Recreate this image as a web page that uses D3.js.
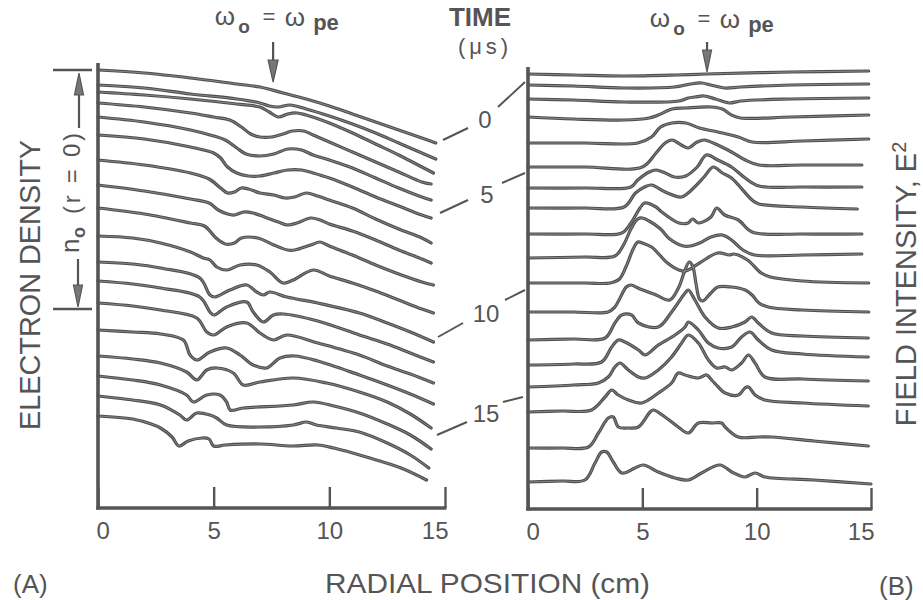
<!DOCTYPE html>
<html><head><meta charset="utf-8">
<script src="https://cdn.jsdelivr.net/npm/d3@7"></script>
<style>
body{margin:0;background:#fff}
svg{display:block}
text{font-family:"Liberation Sans",Arial,Helvetica,sans-serif;fill:#555}
</style>
</head><body>
<svg id="c" width="923" height="600"></svg>
<script>
// ---------- DATA ----------
const radialTicks = [0, 5, 10, 15];
const timeLabels = ["0", "5", "10", "15"];

// Panel A: electron density profiles, [radius cm, stacked density]
const densityTraces = [
 [[0,43.8],[2,43.5],[4,43.0],[6,42.4],[7,42.1],[8,41.5],[9,40.9],[10,40.2],[11,39.4],[12,38.6],[13,37.8],[14,37.0],[14.6,36.5]],
 [[0,42.3],[2,42.0],[4,41.4],[6,40.9],[7,40.5],[7.4,40.2],[7.8,40.1],[8.3,40.3],[9,39.9],[10,39.2],[11,38.4],[12,37.5],[13,36.5],[14,35.5],[14.6,34.9]],
 [[0,41.6],[2,41.3],[4,40.9],[6,40.4],[7,40.1],[7.4,39.6],[7.8,39.1],[8.2,39.4],[8.6,39.5],[9,39.3],[10,38.5],[11,37.5],[12,36.4],[13,35.3],[14,34.1],[14.5,33.5]],
 [[0,40.5],[2,40.1],[4,39.5],[5,39.1],[5.7,38.8],[6.2,38.1],[6.6,37.4],[7,37.1],[7.5,37.1],[8,37.4],[8.4,37.7],[8.9,37.7],[9.3,37.3],[10,36.6],[11,35.6],[12,34.6],[13,33.6],[14,32.6],[14.4,32.4]],
 [[0,39.1],[2,38.6],[4,37.8],[5,37.2],[5.5,36.8],[6,36.0],[6.4,35.4],[7,35.2],[7.6,35.4],[8.2,35.9],[8.8,35.8],[9.3,35.3],[10,34.8],[11,34.0],[12,33.0],[13,32.0],[14,31.1],[14.4,30.8]],
 [[0,37.3],[2,36.9],[4,36.1],[5,35.5],[5.3,35.0],[5.6,34.1],[6,33.5],[6.5,33.2],[7,33.2],[7.6,33.5],[8.2,33.8],[8.8,33.8],[9.3,33.5],[10,33.0],[11,32.1],[12,31.1],[13,30.2],[14,29.3],[14.4,29.0]],
 [[0,34.8],[2,34.3],[4,33.5],[4.8,32.9],[5.3,32.0],[5.6,31.5],[5.9,31.6],[6.2,32.0],[6.5,31.9],[7,31.5],[7.6,31.3],[8.1,31.0],[8.5,31.1],[9,31.5],[9.5,31.2],[10,30.8],[11,30.0],[12,28.9],[13,27.9],[14,27.0],[14.4,26.5]],
 [[0,32.3],[2,31.7],[4,30.9],[4.8,30.5],[5.2,29.8],[5.6,29.4],[5.9,29.3],[6.3,29.6],[6.7,29.5],[7.2,29.1],[7.8,28.6],[8.2,28.3],[8.6,28.5],[9.2,29.0],[9.6,28.8],[10,28.4],[11,27.7],[12,26.8],[13,25.8],[14,24.9],[14.4,24.5]],
 [[0,30.0],[2,29.4],[4,28.5],[4.6,28.2],[5.1,27.0],[5.5,26.4],[5.9,26.5],[6.2,27.0],[6.9,27.0],[7.6,26.3],[8.2,25.8],[8.5,25.8],[9.2,26.3],[9.6,26.6],[10,26.2],[11,25.3],[12,24.3],[13,23.4],[14,22.6],[14.5,22.3]],
 [[0,27.2],[1.5,27.0],[2.7,26.5],[4.0,25.6],[4.55,25.0],[4.84,24.8],[5.13,24.1],[5.56,23.8],[6.14,24.3],[6.86,24.3],[7.43,23.6],[8.0,22.5],[8.44,22.8],[9.3,23.8],[10,23.2],[11,22.5],[12,21.7],[13,20.8],[14,19.9],[14.5,19.5]],
 [[0,24.6],[1.5,24.4],[2.7,24.0],[4.4,23.0],[4.84,21.3],[5.06,21.1],[5.7,21.8],[6.43,22.3],[6.86,21.6],[7.15,21.3],[7.43,21.6],[8.16,21.1],[9.5,20.5],[11.3,19.5],[12.5,18.5],[13.5,17.6],[14.5,16.6]],
 [[0,22.7],[1.5,22.4],[2.7,22.0],[4.4,21.1],[4.84,19.6],[5.0,19.3],[5.56,20.1],[6.43,20.6],[6.71,19.6],[7.15,18.6],[7.58,19.3],[8.0,19.4],[9.5,18.7],[11.3,17.3],[12.5,16.4],[13.5,15.5],[14.5,14.6]],
 [[0,20.5],[1.5,20.2],[2.7,19.8],[4.27,19.0],[4.7,17.6],[5.0,17.3],[5.56,18.1],[6.43,18.5],[7.0,17.5],[7.58,16.8],[8.16,17.3],[9.5,16.5],[11.3,15.3],[12.5,14.2],[13.5,13.4],[14.5,12.5]],
 [[0,17.8],[1.5,17.6],[2.7,17.4],[3.69,16.8],[3.98,15.3],[4.27,14.8],[4.84,15.6],[5.56,16.0],[6.14,15.3],[6.71,14.3],[7.29,14.0],[7.87,15.0],[8.5,15.2],[9.5,14.7],[11.3,13.3],[12.5,12.3],[13.5,11.4],[14.5,10.4]],
 [[0,15.2],[1.5,14.9],[2.7,14.5],[3.83,13.6],[4.27,12.8],[4.7,13.8],[5.13,14.0],[5.85,13.5],[6.28,12.3],[7.0,12.6],[8.44,13.0],[9.88,12.5],[11.3,11.6],[12.5,10.6],[13.5,9.4],[14.4,8.0]],
 [[0,13.2],[1.5,12.8],[2.7,12.3],[3.83,11.3],[4.12,10.6],[4.7,11.3],[5.27,11.3],[5.56,10.6],[5.71,9.8],[6.28,10.0],[8.44,10.3],[9.31,10.6],[10.2,10.2],[11.3,9.5],[12.5,8.4],[13.5,7.3],[14.4,5.9]],
 [[0,11.2],[1.5,10.8],[2.7,10.3],[3.54,9.3],[3.83,8.8],[4.27,9.5],[4.84,9.3],[5.13,9.0],[5.56,8.3],[7.0,8.1],[8.44,8.3],[9.02,8.6],[9.45,8.3],[10.3,8.0],[11.3,7.6],[12.5,6.5],[13.5,5.3],[14.3,4.0]],
 [[0,9.2],[1.5,8.9],[2.3,8.4],[2.7,8.0],[3.2,7.1],[3.5,6.2],[3.9,6.7],[4.5,7.0],[4.8,6.9],[5.0,6.2],[5.5,6.3],[7.0,6.4],[8.4,6.2],[9.5,6.3],[10.2,6.0],[11.6,5.1],[13.1,4.0],[14.2,2.8]]
];

// Panel B: field intensity E^2 profiles, [radius cm, stacked intensity]
const fieldTraces = [
 [[0,43.5],[2,43.4],[4.2,43.3],[6.5,43.4],[7.8,43.5],[11.5,43.7],[14.9,43.8]],
 [[0,42.4],[2,42.3],[4.2,42.1],[6.4,42.2],[7.1,42.5],[7.6,42.6],[8.0,42.4],[8.6,42.1],[9.3,42.2],[11.5,42.4],[14.9,42.5]],
 [[0,41.0],[2,40.9],[4.2,40.7],[6.6,40.8],[7.0,41.1],[7.3,41.2],[7.7,41.3],[8.2,41.0],[8.8,40.6],[9.3,40.8],[11.5,41.0],[14.9,41.1]],
 [[0,39.2],[2,39.0],[4.2,38.9],[5.3,39.1],[5.7,39.4],[6.3,40.0],[6.9,40.1],[8.0,40.2],[8.5,40.0],[8.9,39.4],[9.3,39.1],[11.5,39.2],[14.9,39.4]],
 [[0,36.6],[2.5,36.6],[4.8,36.6],[5.4,37.2],[5.8,38.2],[6.3,38.6],[6.9,38.6],[7.5,38.1],[8.3,37.7],[9.2,37.2],[9.8,36.7],[12,36.8],[14.9,37.0]],
 [[0,34.2],[2.5,34.2],[5.0,34.2],[5.6,35.6],[6.0,36.6],[6.3,36.9],[6.7,36.4],[7.0,36.1],[7.4,36.7],[7.7,36.9],[8.3,36.4],[8.9,35.7],[9.5,34.9],[10.1,34.4],[12,34.4],[14.6,34.4]],
 [[0,32.1],[2.5,32.1],[4.5,32.2],[4.8,32.9],[5.3,33.7],[5.6,33.9],[6.0,33.6],[6.4,33.2],[6.9,33.3],[7.4,34.2],[7.8,35.4],[8.3,34.9],[8.9,34.2],[9.5,33.1],[10.1,32.3],[12,32.2],[14.6,32.2]],
 [[0,30.1],[2.5,30.1],[4.2,30.2],[4.7,31.6],[5.1,32.2],[5.4,32.4],[6.0,31.7],[6.7,31.2],[7.0,31.6],[7.7,33.2],[8.1,34.2],[8.5,33.6],[8.9,33.1],[9.8,30.9],[10.1,30.5],[12,30.2],[14.4,30.0]],
 [[0,27.5],[2.5,27.5],[4.1,27.6],[4.5,28.6],[4.9,30.1],[5.1,30.6],[5.6,30.2],[5.85,29.7],[6.6,28.6],[7.0,28.6],[7.2,29.0],[7.45,28.6],[8.0,29.2],[8.25,30.1],[8.6,29.4],[9.2,28.9],[9.8,27.7],[12,27.5],[14.6,27.5]],
 [[0,25.1],[2.5,25.2],[3.8,25.3],[4.2,26.5],[4.5,28.0],[4.8,29.0],[5.0,29.1],[5.3,28.8],[5.8,28.0],[6.2,27.0],[6.8,26.3],[7.1,26.3],[7.5,26.6],[8.0,27.2],[8.5,27.4],[8.9,26.9],[9.4,25.9],[9.9,25.4],[12,25.4],[14.6,25.5]],
 [[0,22.6],[2.5,22.6],[3.6,22.6],[4.0,23.0],[4.3,24.3],[4.6,26.0],[4.8,26.7],[5.0,26.6],[5.4,26.2],[6.1,24.6],[6.6,23.9],[6.9,23.8],[7.5,24.6],[8.3,25.6],[8.8,25.4],[9.0,25.5],[9.6,24.9],[10.2,23.6],[10.6,23.2],[12,22.8],[14.9,22.6]],
 [[0,19.7],[2,19.7],[3.5,19.7],[3.8,20.2],[4.3,22.2],[4.5,22.4],[4.9,22.0],[5.6,21.4],[6.2,20.9],[6.6,22.2],[6.85,23.8],[7.05,24.7],[7.2,24.3],[7.35,22.5],[7.5,21.0],[7.65,20.8],[8.0,21.6],[8.3,22.2],[8.9,22.2],[9.5,21.9],[9.8,21.4],[10.1,20.6],[10.5,20.2],[12,19.9],[14.9,19.7]],
 [[0,16.9],[2,17.0],[3.37,17.1],[3.8,18.6],[4.1,19.4],[4.53,19.4],[4.83,18.6],[5.7,18.2],[6.28,19.7],[6.87,21.6],[7.01,21.9],[7.3,20.9],[7.74,19.2],[8.32,18.1],[8.91,18.2],[9.49,18.7],[9.78,19.2],[10.07,18.6],[10.66,17.6],[12,17.3],[14.88,17.1]],
 [[0,14.4],[2,14.5],[3.22,14.7],[3.66,16.2],[3.95,16.9],[4.24,16.7],[4.83,15.9],[5.12,15.4],[5.7,16.4],[6.43,17.4],[6.87,18.2],[7.01,18.7],[7.45,17.9],[7.89,16.6],[8.32,16.1],[8.91,16.2],[9.34,17.2],[9.71,17.7],[10.07,16.9],[10.66,15.9],[12,15.5],[14.88,15.2]],
 [[0,12.2],[2,12.4],[3.08,12.6],[3.51,13.2],[3.8,14.2],[4.02,14.6],[4.39,13.9],[4.83,13.2],[5.12,13.1],[5.7,13.9],[6.28,15.2],[6.72,16.6],[7.01,17.4],[7.45,16.6],[7.89,14.9],[8.25,14.1],[8.62,14.2],[8.91,13.9],[9.34,14.6],[9.64,15.4],[9.93,14.6],[10.36,13.2],[12,13.0],[14.88,12.8]],
 [[0,9.7],[1.5,9.8],[2.78,9.9],[3.37,11.2],[3.66,11.9],[3.95,11.4],[4.39,10.9],[4.97,10.6],[5.7,11.6],[6.28,12.6],[6.57,13.6],[6.87,13.4],[7.45,13.1],[7.81,13.4],[8.03,12.9],[8.32,12.2],[8.62,11.6],[9.2,11.4],[9.49,12.1],[9.64,12.2],[9.93,11.4],[10.36,10.9],[12,10.6],[14.88,10.3]],
 [[0,6.1],[1.5,6.1],[2.64,6.2],[3.08,7.6],[3.51,9.1],[3.73,9.2],[3.95,8.2],[4.39,8.1],[4.83,8.2],[5.34,9.7],[5.48,9.9],[5.99,9.2],[6.57,8.2],[7.01,7.6],[7.45,8.6],[8.03,8.6],[8.47,8.6],[8.62,8.2],[9.2,7.2],[10.07,7.2],[10.66,7.2],[12.5,6.8],[14.88,6.3]],
 [[0,2.7],[1.5,2.8],[2.49,2.9],[2.93,4.6],[3.22,5.7],[3.44,5.7],[3.73,4.7],[4.1,3.6],[4.68,4.1],[5.04,4.4],[5.7,3.7],[6.43,3.1],[7.01,2.9],[7.59,3.6],[8.4,4.4],[8.91,3.7],[9.49,3.2],[9.93,3.6],[10.36,3.2],[12.5,2.9],[15.0,2.5]]
];

// ---------- DRAWING ----------
const svg = d3.select("#c");
svg.append("rect").attr("width", 923).attr("height", 600).attr("fill", "#fff");
const ink = "#555";

const xA = d3.scaleLinear().domain([0, 15]).range([98, 445]);
const yA = d3.scaleLinear().domain([0, 44.5]).range([508, 63]);
const xB = d3.scaleLinear().domain([0, 15]).range([528, 871]);
const yB = d3.scaleLinear().domain([0, 44.2]).range([509, 67]);

function drawPanel(x, y, traces) {
  const g = svg.append("g");
  const line = d3.line().x(d => x(d[0])).y(d => y(d[1])).curve(d3.curveCatmullRom.alpha(0.5));
  g.selectAll("path.outer").data(traces).join("path").attr("class", "outer")
    .attr("d", line).attr("fill", "none").attr("stroke", "#4e4e4e")
    .attr("stroke-width", 3.2).attr("stroke-linejoin", "round").attr("stroke-linecap", "round");
  g.selectAll("path.inner").data(traces).join("path").attr("class", "inner")
    .attr("d", line).attr("fill", "none").attr("stroke", "#8e8e8e")
    .attr("stroke-width", 0.9).attr("stroke-linejoin", "round").attr("stroke-linecap", "round");
  // vertical axis
  g.append("line").attr("x1", x(0)).attr("x2", x(0))
    .attr("y1", y(0) + 1.5).attr("y2", y.range()[1])
    .attr("stroke", ink).attr("stroke-width", 3.6);
  // horizontal axis
  const axis = d3.axisBottom(x).tickValues(radialTicks).tickSize(-21).tickSizeOuter(0).tickPadding(14);
  const ag = g.append("g").attr("transform", `translate(0,${y(0)})`).call(axis)
    .attr("font-family", null).attr("font-size", null);
  ag.select(".domain").attr("stroke", ink).attr("stroke-width", 3.6)
    .attr("d", `M${x(0)-1.8},0H${x(15)+1.5}`);
  ag.selectAll(".tick line").attr("stroke", ink).attr("stroke-width", 2.4);
  ag.selectAll(".tick text").attr("font-size", 24).attr("fill", ink)
    .attr("text-anchor", (d, i) => i === 0 ? "start" : (i === radialTicks.length - 1 ? "end" : "middle"))
    .attr("dx", (d, i) => i === 0 ? -2 : (i === radialTicks.length - 1 ? 3 : 0));
}
drawPanel(xA, yA, densityTraces);
drawPanel(xB, yB, fieldTraces);

// ---------- ANNOTATIONS ----------
function arrowDown(g, x, yTop, yTip, headLen, halfW) {
  g.append("line").attr("x1", x).attr("x2", x).attr("y1", yTop).attr("y2", yTip - headLen + 2)
    .attr("stroke", ink).attr("stroke-width", 2.2);
  g.append("path").attr("d", `M${x-halfW},${yTip-headLen}L${x+halfW},${yTip-headLen}L${x},${yTip}Z`)
    .attr("fill", "#777").attr("stroke", ink).attr("stroke-width", 1.2);
}
function arrowUp(g, x, yBottom, yTip, headLen, halfW) {
  g.append("line").attr("x1", x).attr("x2", x).attr("y1", yBottom).attr("y2", yTip + headLen - 2)
    .attr("stroke", ink).attr("stroke-width", 2.2);
  g.append("path").attr("d", `M${x-halfW},${yTip+headLen}L${x+halfW},${yTip+headLen}L${x},${yTip}Z`)
    .attr("fill", "#777").attr("stroke", ink).attr("stroke-width", 1.2);
}
const ann = svg.append("g");

// omega_o = omega_pe labels with arrows
function omegaLabel(cx, base) {
  ann.append("text").attr("x", cx).attr("y", base).attr("font-size", 26).attr("text-anchor", "middle").text("ω");
  ann.append("text").attr("x", cx + 19).attr("y", base + 8).attr("font-size", 19).attr("font-weight", "bold").attr("text-anchor", "middle").text("o");
  ann.append("text").attr("x", cx + 44).attr("y", base - 1).attr("font-size", 22).attr("text-anchor", "middle").text("=");
  ann.append("text").attr("x", cx + 70).attr("y", base + 1).attr("font-size", 26).attr("text-anchor", "middle").text("ω");
  ann.append("text").attr("x", cx + 101).attr("y", base + 5).attr("font-size", 22).attr("font-weight", "bold").attr("text-anchor", "middle").text("pe");
}
omegaLabel(225, 25);
omegaLabel(660, 27);
arrowDown(ann, xA(7.57), 42, 82, 22, 5);
arrowDown(ann, xB(7.83), 42, 72, 22, 4.5);

// TIME (mu s) header
ann.append("text").attr("x", 480).attr("y", 26).attr("font-size", 26).attr("font-weight", "bold")
  .attr("text-anchor", "middle").attr("fill", "#5e5e5e").text("TIME");
ann.append("text").attr("x", 458).attr("y", 54).attr("font-size", 22)
  .attr("textLength", 50).attr("lengthAdjust", "spacing").text("(μs)");

// time labels with leader lines
const timeLayout = [
  {tx: 485, ty: 128, l: [443, 140, 468, 128], r: [498, 107, 525, 82]},
  {tx: 487, ty: 203, l: [440, 213, 468, 200], r: [502, 183, 525, 173]},
  {tx: 486, ty: 322, l: [438, 337, 463, 323], r: [505, 300, 525, 290]},
  {tx: 486, ty: 422, l: [437, 435, 467, 422], r: [503, 402, 523, 397]}
];
timeLabels.forEach((t, i) => {
  const p = timeLayout[i];
  ann.append("text").attr("x", p.tx).attr("y", p.ty).attr("font-size", 24).attr("text-anchor", "middle").text(t);
  [p.l, p.r].forEach(s => ann.append("line").attr("x1", s[0]).attr("y1", s[1]).attr("x2", s[2]).attr("y2", s[3])
    .attr("stroke", ink).attr("stroke-width", 2));
});

// n_o (r = 0) scale bar
ann.append("line").attr("x1", 53).attr("x2", 92).attr("y1", 70).attr("y2", 70).attr("stroke", ink).attr("stroke-width", 2.6);
ann.append("line").attr("x1", 53).attr("x2", 92).attr("y1", 309).attr("y2", 309).attr("stroke", ink).attr("stroke-width", 2.6);
arrowUp(ann, 79, 128, 73, 22, 4.5);
arrowDown(ann, 78, 259, 307, 22, 4.5);
const nG = ann.append("g").attr("transform", "translate(79,0) rotate(-90)");
nG.append("text").attr("x", -253).attr("y", 0).attr("font-size", 26).text("n");
nG.append("text").attr("x", -238).attr("y", 6).attr("font-size", 18).attr("font-weight", "bold").text("o");
nG.append("text").attr("x", -214).attr("y", 1).attr("font-size", 24)
  .attr("textLength", 81).attr("lengthAdjust", "spacing").text("(r = 0)");

// axis titles
svg.append("text").attr("transform", "translate(40,285) rotate(-90)").attr("text-anchor", "middle")
  .attr("font-size", 29).attr("textLength", 290).attr("lengthAdjust", "spacingAndGlyphs").text("ELECTRON DENSITY");
const fi = svg.append("text").attr("transform", "translate(916,284) rotate(-90)").attr("text-anchor", "middle")
  .attr("font-size", 29);
fi.append("tspan").text("FIELD INTENSITY, E");
fi.append("tspan").attr("dy", -10).attr("font-size", 20).text("2");
svg.append("text").attr("x", 325).attr("y", 593).attr("font-size", 28)
  .attr("textLength", 325).attr("lengthAdjust", "spacingAndGlyphs").text("RADIAL POSITION (cm)");
svg.append("text").attr("x", 13).attr("y", 593).attr("font-size", 26).text("(A)");
svg.append("text").attr("x", 879).attr("y", 595).attr("font-size", 26).text("(B)");
</script>
</body></html>
